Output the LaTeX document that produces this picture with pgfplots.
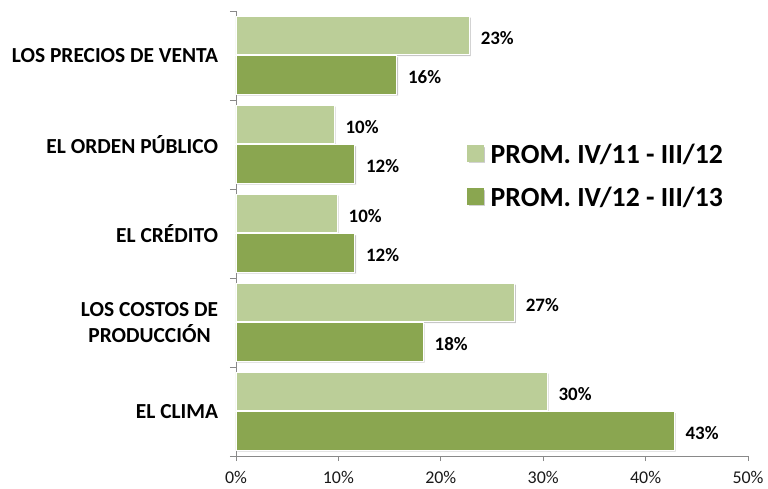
\documentclass[border=0pt]{standalone}
\usepackage{pgfplots}
\pgfplotsset{compat=1.18}
\usetikzlibrary{shadows}
\usepackage{fontspec}
\setmainfont{Carlito}
\definecolor{lightg}{RGB}{187,206,152}
\definecolor{darkg}{RGB}{138,166,80}
\definecolor{axisgray}{RGB}{137,137,137}
\begin{document}
\begin{tikzpicture}
\path[use as bounding box] (-236bp,-33bp) rectangle (532bp,456bp);
\begin{axis}[
  at={(0,0)}, anchor=south west,
  scale only axis,
  width=512bp, height=445bp,
  xmin=0, xmax=50, ymin=-0.5, ymax=4.5,
  xbar, bar width=38.5bp,
  axis x line*=bottom, axis y line*=left,
  axis line style={axisgray, line width=0.75bp, -},
  tick align=outside,
  major tick length=5bp,
  minor tick length=6bp,
  xtick={0,10,20,30,40,50},
  xticklabels={0\%,10\%,20\%,30\%,40\%,50\%},
  x tick style={axisgray, line width=0.75bp},
  x tick label style={font=\fontsize{18}{20}\selectfont, text=black!90, inner sep=0pt, yshift=-10bp},
  ytick={0,1,2,3,4},
  yticklabels={EL CLIMA,{LOS COSTOS DE\\PRODUCCIÓN},EL CRÉDITO,EL ORDEN PÚBLICO,LOS PRECIOS DE VENTA},
  minor ytick={-0.5,0.5,1.5,2.5,3.5,4.5},
  major y tick style={draw=none},
  minor y tick style={axisgray, line width=0.75bp},
  y tick label style={font=\bfseries\fontsize{21.5}{26.7}\selectfont, align=center, inner sep=0pt, xshift=-12.7bp},
  nodes near coords={\pgfmathprintnumber[fixed,precision=0,assume math mode=true]{\pgfplotspointmeta}\%},
  every node near coord/.append style={font=\bfseries\fontsize{19}{20}\selectfont, anchor=west, inner sep=0pt, xshift=11bp, yshift=-2.5bp, text=black},
  legend style={at={(0.4506,0.702)}, anchor=north west, draw=none, fill=none, inner sep=0pt,
    font=\bfseries\fontsize{27.8}{30}\selectfont, nodes={inner sep=0pt}, column sep=6.7bp, row sep=22bp},
  legend cell align=left,
  clip=false,
]
\addplot[fill=lightg, draw=white, line width=0.6bp, bar shift=20bp,
  drop shadow={shadow xshift=1.3bp, shadow yshift=-1.3bp, fill=black, opacity=0.22},
  legend image code/.code={\fill[lightg] (0bp,-7.2bp) rectangle (16.5bp,8.5bp);}]
  coordinates {(30.4,0) (27.2,1) (9.9,2) (9.6,3) (22.8,4)};
\addplot[fill=darkg, draw=white, line width=0.6bp, bar shift=-19.5bp,
  drop shadow={shadow xshift=1.3bp, shadow yshift=-1.3bp, fill=black, opacity=0.22},
  legend image code/.code={\fill[darkg] (0bp,-7.2bp) rectangle (16.5bp,8.5bp);}]
  coordinates {(42.8,0) (18.3,1) (11.6,2) (11.6,3) (15.7,4)};
\legend{PROM. IV/11 - III/12, PROM. IV/12 - III/13}
\end{axis}
\end{tikzpicture}
\end{document}
